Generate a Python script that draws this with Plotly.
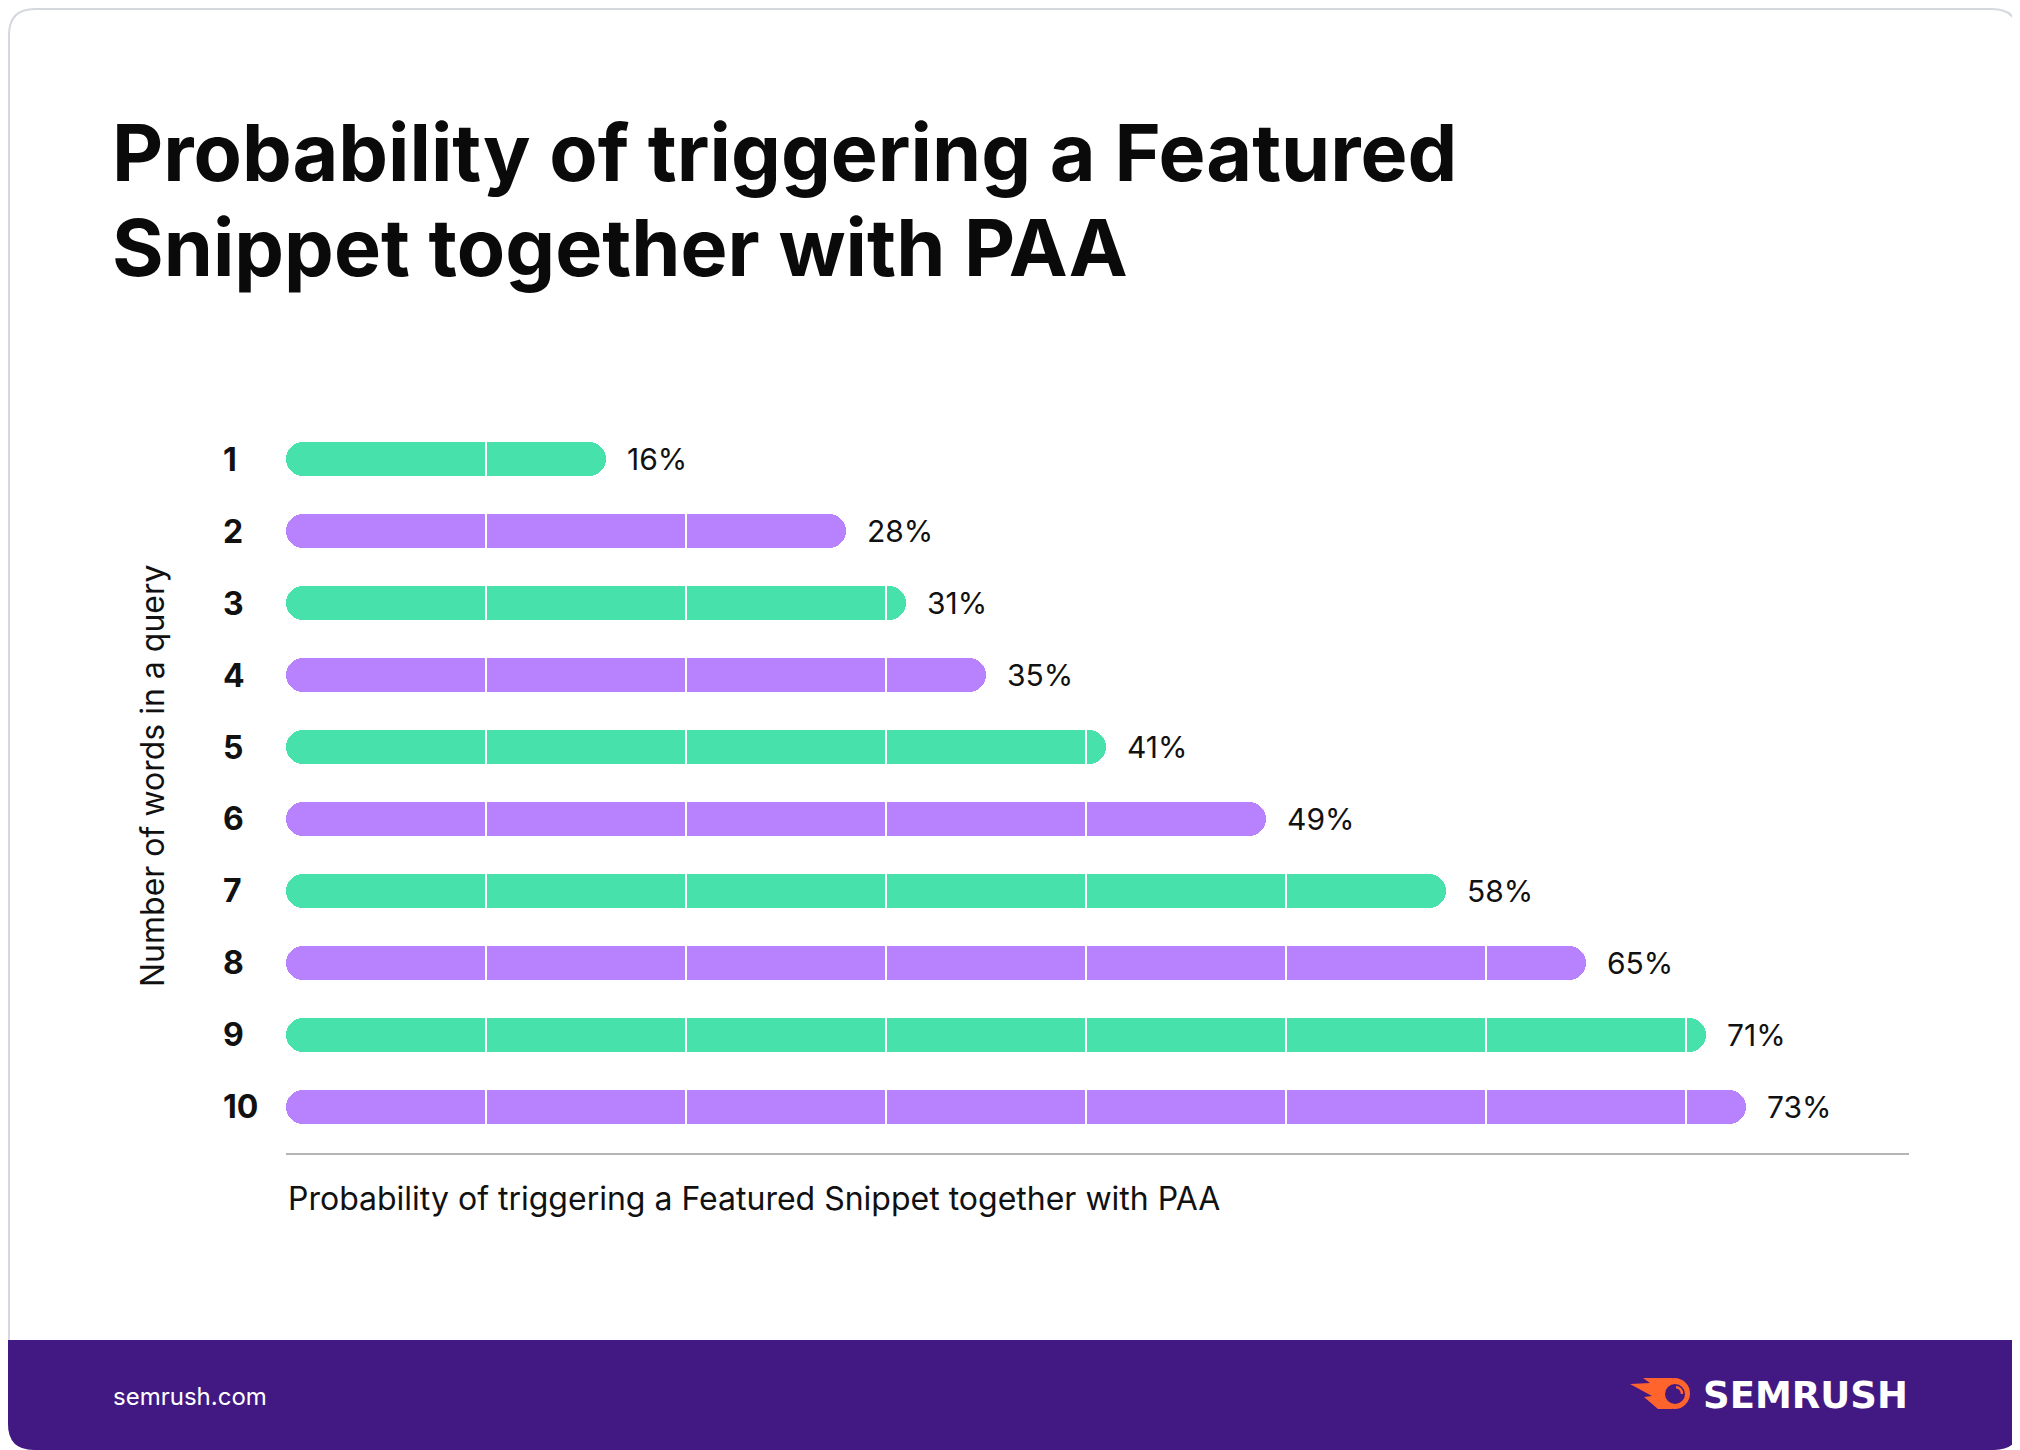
import plotly.graph_objects as go

# ---------------- data ----------------
words = ["1", "2", "3", "4", "5", "6", "7", "8", "9", "10"]
probability = [16, 28, 31, 35, 41, 49, 58, 65, 71, 73]
grid_ticks = [10, 20, 30, 40, 50, 60, 70]
bar_palette = ["#47E1AB", "#B882FF"]
title_lines = ["Probability of triggering a Featured", "Snippet together with PAA"]
x_title = "Probability of triggering a Featured Snippet together with PAA"
y_title = "Number of words in a query"
footer_left = "semrush.com"
footer_brand = "SEMRUSH"

# ---------------- layout geometry (reference pixel coords) ----------------
OFF = 8                      # page body margin
FW, FH = 2020 - OFF, 1450 - OFF
PX0, PX1, PY0, PY1 = 286, 1909, 413, 1153   # plot area in page pixels
L, R = PX0 - OFF, FW - (PX1 - OFF)
T, B = PY0 - OFF, FH - (PY1 - OFF)
TXT = "#111111"
FONT = "Inter"
PURPLE_DARK = "#421983"
ORANGE = "#FF642D"


def px(xp):
    return (xp - PX0) / (PX1 - PX0)


def py(yp):
    return (PY1 - yp) / (PY1 - PY0)


def rr_path(x0, y0, x1, y1, r, top=True, bottom=True):
    rt = r if top else 0
    rb = r if bottom else 0
    pts = [f"M {px(x0 + rt)},{py(y0)}", f"L {px(x1 - rt)},{py(y0)}"]
    if rt:
        pts.append(f"Q {px(x1)},{py(y0)} {px(x1)},{py(y0 + rt)}")
    pts.append(f"L {px(x1)},{py(y1 - rb)}")
    if rb:
        pts.append(f"Q {px(x1)},{py(y1)} {px(x1 - rb)},{py(y1)}")
    pts.append(f"L {px(x0 + rb)},{py(y1)}")
    if rb:
        pts.append(f"Q {px(x0)},{py(y1)} {px(x0)},{py(y1 - rb)}")
    pts.append(f"L {px(x0)},{py(y0 + rt)}")
    if rt:
        pts.append(f"Q {px(x0)},{py(y0)} {px(x0 + rt)},{py(y0)}")
    pts.append("Z")
    return " ".join(pts)


colors = [bar_palette[i % 2] for i in range(len(words))]
idx = list(range(len(words)))

fig = go.Figure()
fig.add_trace(go.Bar(
    y=idx, x=probability, base=[0] * len(words), orientation="h", width=0.468,
    marker=dict(color=colors, cornerradius="50%", line=dict(width=0)),
    hoverinfo="skip", showlegend=False,
))

shapes = []
shapes.append(dict(type="path", xref="paper", yref="paper", layer="below",
                   path=rr_path(OFF + 1, OFF + 1, 2018, 1449, 26),
                   line=dict(color="#D5D8DE", width=2), fillcolor="white"))
shapes.append(dict(type="path", xref="paper", yref="paper", layer="below",
                   path=rr_path(OFF, 1340, 2020, 1450, 26, top=False, bottom=True),
                   line=dict(width=0), fillcolor=PURPLE_DARK))
for g in grid_ticks:
    shapes.append(dict(type="line", xref="x", yref="y", layer="above",
                       x0=g, x1=g, y0=-0.5, y1=9.5,
                       line=dict(color="white", width=2)))
tail = (f"M {px(1630)},{py(1384)} L {px(1650)},{py(1383)} L {px(1643)},{py(1378)} "
        f"L {px(1672)},{py(1378)} L {px(1672)},{py(1409)} L {px(1658)},{py(1409)} "
        f"L {px(1644)},{py(1397)} L {px(1652)},{py(1396)} Z")
shapes.append(dict(type="path", xref="paper", yref="paper", layer="above",
                   path=tail, line=dict(width=0), fillcolor=ORANGE))
shapes.append(dict(type="circle", xref="paper", yref="paper", layer="above",
                   x0=px(1659), x1=px(1690), y0=py(1409), y1=py(1378),
                   line=dict(width=0), fillcolor=ORANGE))
shapes.append(dict(type="circle", xref="paper", yref="paper", layer="above",
                   x0=px(1665), x1=px(1685), y0=py(1404), y1=py(1384),
                   line=dict(width=0), fillcolor=PURPLE_DARK))
shapes.append(dict(type="path", xref="paper", yref="paper", layer="above",
                   path=(f"M {px(1676)},{py(1387)} Q {px(1682)},{py(1388)} {px(1682)},{py(1394)}"),
                   line=dict(color=ORANGE, width=2.5)))

annotations = []
for i, v in zip(idx, probability):
    annotations.append(dict(x=v, y=i, xref="x", yref="y", text=f"{v}%",
                            xanchor="left", yanchor="middle", xshift=19,
                            showarrow=False,
                            font=dict(family=FONT, size=30, color=TXT)))
# category labels (left-aligned like the reference)
for i, w in zip(idx, words):
    annotations.append(dict(x=px(221), y=i, xref="paper", yref="y", text=w,
                            xanchor="left", yanchor="middle", showarrow=False,
                            font=dict(family=FONT, size=32, color=TXT, weight=700)))
for line, top in zip(title_lines, [102, 197]):
    annotations.append(dict(x=px(110), y=py(top), xref="paper", yref="paper",
                            text=line, xanchor="left", yanchor="top", align="left",
                            showarrow=False,
                            font=dict(family=FONT, size=79, color="#0A0A0A", weight=700)))
annotations.append(dict(x=px(152), y=py(776), xref="paper", yref="paper",
                        text=y_title, textangle=-90, xanchor="center", yanchor="middle",
                        showarrow=False, font=dict(family=FONT, size=32, color=TXT)))
annotations.append(dict(x=px(286), y=py(1198), xref="paper", yref="paper",
                        text=x_title, xanchor="left", yanchor="middle",
                        showarrow=False, font=dict(family=FONT, size=32, color=TXT)))
annotations.append(dict(x=px(111), y=py(1396), xref="paper", yref="paper",
                        text=footer_left, xanchor="left", yanchor="middle",
                        showarrow=False, font=dict(family=FONT, size=24, color="white")))
annotations.append(dict(x=px(1910), y=py(1395), xref="paper", yref="paper",
                        text=footer_brand, xanchor="right", yanchor="middle",
                        showarrow=False,
                        font=dict(family="DejaVu Sans", size=37, color="white", weight=700)))

fig.update_layout(
    width=FW, height=FH,
    margin=dict(l=L, r=R, t=T, b=B, pad=0),
    paper_bgcolor="white", plot_bgcolor="white",
    barmode="overlay", bargap=0,
    showlegend=False,
    shapes=shapes, annotations=annotations,
    xaxis=dict(range=[0, 81.15], showgrid=False, zeroline=False,
               showline=True, linecolor="#B5B5B5", linewidth=2,
               showticklabels=False, ticks="", automargin=False, fixedrange=True),
    yaxis=dict(range=[9.64, -0.64], showgrid=False, zeroline=False, showline=False,
               showticklabels=False, ticks="", automargin=False, fixedrange=True),
)

fig.write_html("out.html")
